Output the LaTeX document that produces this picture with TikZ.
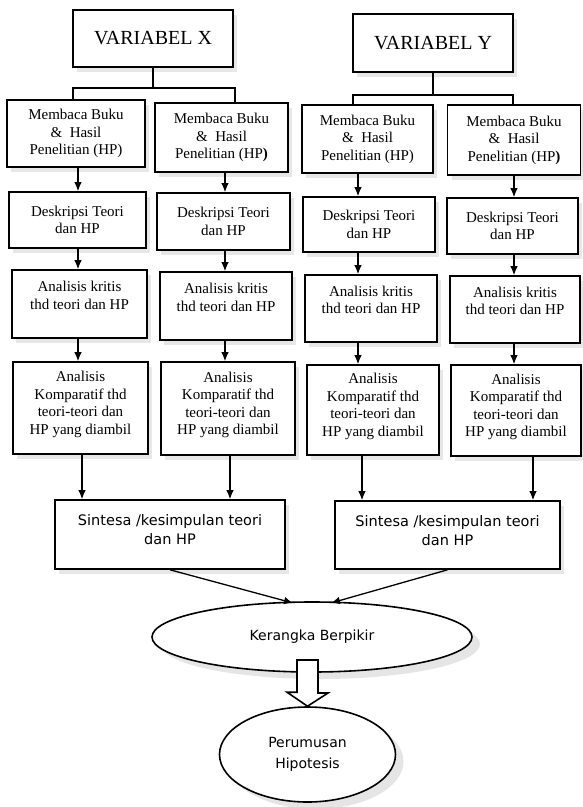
\documentclass[tikz,border=0pt]{standalone}
\usepackage{fontspec}
\setmainfont{Liberation Serif}
\newfontfamily\tahfont{DejaVu Sans}
\usetikzlibrary{shapes.geometric,shadows,arrows.meta}
\begin{document}
\begin{tikzpicture}[x=1pt,y=-1pt,
  box/.style={draw, line width=1.6pt, fill=white, align=center, inner sep=0pt,
    font=\fontsize{15}{17.5}\selectfont,
    drop shadow={shadow xshift=4pt, shadow yshift=-5pt, fill=black!18}},
  varbox/.style={box, font=\fontsize{20}{24}\selectfont},
  sbox/.style={box, font=\tahfont\fontsize{14.5}{19}\selectfont},
  ell/.style={draw, ellipse, line width=1.6pt, fill=white, inner sep=0pt, align=center,
    font=\tahfont\fontsize{14}{21}\selectfont,
    drop shadow={shadow xshift=8pt, shadow yshift=-7pt, fill=black!20}},
  arr/.style={-{Latex[length=9pt,width=7.5pt]}, line width=1.3pt},
  ln/.style={line width=1.3pt}]
\useasboundingbox (0,0) rectangle (583,807);
\fill[white] (0,0) rectangle (583,807);

% top variables
\node[varbox, minimum width=160pt, minimum height=57pt] (vx) at (153,38.5) {VARIABEL X};
\node[varbox, minimum width=160pt, minimum height=58pt] (vy) at (433,43) {VARIABEL Y};

% Membaca
\node[box, minimum width=138pt, minimum height=67pt] (m1) at (76,133.5) {Membaca Buku\\\&\ \ Hasil\\Penelitian (HP)};
\node[box, minimum width=133pt, minimum height=69pt] (m2) at (221.5,137.5) {Membaca Buku\\\&\ \ Hasil\\Penelitian (HP\textbf{)}};
\node[box, minimum width=131pt, minimum height=68pt] (m3) at (367.5,139) {Membaca Buku\\\&\ \ Hasil\\Penelitian (HP)};
\node[box, minimum width=133pt, minimum height=70pt] (m4) at (514,140) {Membaca Buku\\\&\ \ Hasil\\Penelitian (HP\textbf{)}};

% Deskripsi
\node[box, minimum width=137pt, minimum height=56pt] (d1) at (77.5,220) {Deskripsi Teori\\dan HP};
\node[box, minimum width=133pt, minimum height=57pt] (d2) at (223.5,221.5) {Deskripsi Teori\\dan HP};
\node[box, minimum width=132pt, minimum height=55pt] (d3) at (369,224.5) {Deskripsi Teori\\dan HP};
\node[box, minimum width=131pt, minimum height=56pt] (d4) at (512.5,226) {Deskripsi Teori\\dan HP};

% Analisis kritis
\node[box, minimum width=135pt, minimum height=68pt] (k1) at (79.5,304) {Analisis kritis\\thd teori dan HP\\\mbox{}};
\node[box, minimum width=132pt, minimum height=68pt] (k2) at (226,306) {Analisis kritis\\thd teori dan HP\\\mbox{}};
\node[box, minimum width=132pt, minimum height=67pt] (k3) at (371,308.5) {Analisis kritis\\thd teori dan HP\\\mbox{}};
\node[box, minimum width=130pt, minimum height=67pt] (k4) at (515,309.5) {Analisis kritis\\thd teori dan HP\\\mbox{}};

% Analisis komparatif
\node[box, minimum width=135pt, minimum height=92pt] (c1) at (80.5,408) {Analisis\\Komparatif thd\\teori-teori dan\\HP yang diambil\\[-7.5pt]\mbox{}};
\node[box, minimum width=134pt, minimum height=93pt] (c2) at (228,408.5) {Analisis\\Komparatif thd\\teori-teori dan\\HP yang diambil\\[-7.5pt]\mbox{}};
\node[box, minimum width=132pt, minimum height=90pt] (c3) at (373,410) {Analisis\\Komparatif thd\\teori-teori dan\\HP yang diambil\\[-7.5pt]\mbox{}};
\node[box, minimum width=130pt, minimum height=91pt] (c4) at (516,410.5) {Analisis\\Komparatif thd\\teori-teori dan\\HP yang diambil\\[-7.5pt]\mbox{}};

% Sintesa
\node[sbox, minimum width=230pt, minimum height=69pt] (s1) at (170,534.5) {Sintesa /kesimpulan teori\\dan HP\\[-9pt]\mbox{}};
\node[sbox, minimum width=225pt, minimum height=68pt] (s2) at (447.5,535) {Sintesa /kesimpulan teori\\dan HP\\[-9pt]\mbox{}};

% Ellipses
\node[ell, minimum width=320pt, minimum height=70pt] (ker) at (312,637) {Kerangka Berpikir};
\node[ell, minimum width=176pt, minimum height=95pt] (per) at (307.5,754.5) {Perumusan\\Hipotesis};

% branch coordinates
\coordinate (bx) at (153,88);
\coordinate (bxl) at (73,88);
\coordinate (bxr) at (235,88);
\coordinate (by) at (433,95);
\coordinate (byl) at (353,95);
\coordinate (byr) at (513,95);
\draw[ln] (vx.south) -- (bx);
\draw[ln] (bxl |- m1.north) -- (bxl) -- (bxr) -- (bxr |- m2.north);
\draw[ln] (vy.south) -- (by);
\draw[ln] (byl |- m3.north) -- (byl) -- (byr) -- (byr |- m4.north);

% column arrow positions
\coordinate (x1) at (78,0);
\coordinate (x2) at (225,0);
\coordinate (x3) at (358,0);
\coordinate (x4) at (514,0);
\coordinate (z1) at (82,0);
\coordinate (z2) at (230,0);
\coordinate (z3) at (362,0);
\coordinate (z4) at (533,0);

\draw[arr] (m1.south -| x1) -- (d1.north -| x1);
\draw[arr] (m2.south -| x2) -- (d2.north -| x2);
\draw[arr] (m3.south -| x3) -- (d3.north -| x3);
\draw[arr] (m4.south -| x4) -- (d4.north -| x4);

\draw[arr] (d1.south -| x1) -- (k1.north -| x1);
\draw[arr] (d2.south -| x2) -- (k2.north -| x2);
\draw[arr] (d3.south -| x3) -- (k3.north -| x3);
\draw[arr] (d4.south -| x4) -- (k4.north -| x4);

\draw[arr] (k1.south -| x1) -- (c1.north -| x1);
\draw[arr] (k2.south -| x2) -- (c2.north -| x2);
\draw[arr] (k3.south -| x3) -- (c3.north -| x3);
\draw[arr] (k4.south -| x4) -- (c4.north -| x4);

\draw[arr] (c1.south -| z1) -- (s1.north -| z1);
\draw[arr] (c2.south -| z2) -- (s1.north -| z2);
\draw[arr] (c3.south -| z3) -- (s2.north -| z3);
\draw[arr] (c4.south -| z4) -- (s2.north -| z4);

% into Kerangka
\coordinate (kl) at (293,603);
\coordinate (kr) at (331,603);
\draw[arr] (s1.south) -- (kl);
\draw[arr] (s2.south) -- (kr);

% hollow block arrow
\coordinate (ba) at (307.5,660);
\draw[line width=1.6pt, fill=white, line join=miter]
  (ba) ++(-10.5,0) -- ++(21,0) -- ++(0,33) -- ++(10,0) -- (per.north)
  -- ++(-20.5,-14) -- ++(10,0) -- cycle;
\end{tikzpicture}
\end{document}
